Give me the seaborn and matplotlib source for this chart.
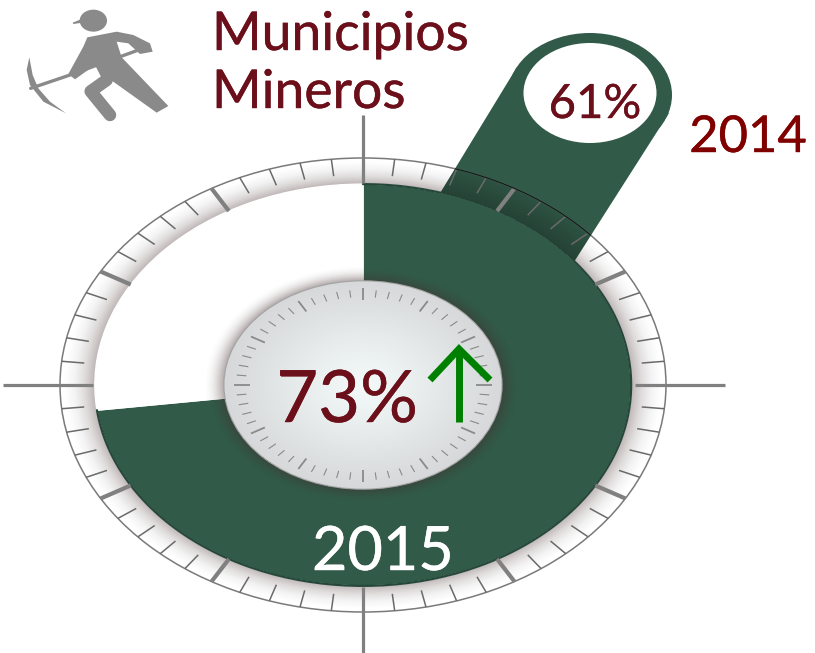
import numpy as np
import matplotlib
matplotlib.use("Agg")
import matplotlib.pyplot as plt
import matplotlib.patheffects as pe
from matplotlib.patches import Ellipse, Polygon
from matplotlib.transforms import Affine2D
import seaborn as sns

# ---- data ----
title_lines = ["Municipios", "Mineros"]
years = ["2014", "2015"]
shares = [61, 73]
dial_ticks = 60

# ---- style ----
GREEN = "#315B48"
MAROON = "#6B0F1A"
RED2014 = "#800000"
GRAY = "#808080"
sns.set_theme(style="white")
plt.rcParams["font.family"] = ["Lato", "DejaVu Sans"]

W, H = 815, 653
CX, CY, RX, RY = 363, 385, 303, 227
fig = plt.figure(figsize=(W / 100, H / 100), dpi=100, facecolor="white")
ax = fig.add_axes([0, 0, 1, 1])
px = Affine2D().scale(1, -1).translate(0, H)     # reference pixel positions -> display
xl = (-CX / RX, (W - CX) / RX)
yl = ((CY - H) / RY, CY / RY)

xx, yy = np.meshgrid(np.linspace(*xl, W), np.linspace(yl[1], yl[0], H))
rr = np.hypot(xx, yy)
ext = (xl[0], xl[1], yl[0], yl[1])


def layer(rgb, alpha, z, clip=None):
    img = np.dstack([np.full_like(rr, c) for c in rgb] + [alpha])
    im = ax.imshow(img, extent=ext, aspect="auto", zorder=z, interpolation="bilinear")
    if clip is not None:
        im.set_clip_path(clip)
    return im


# rim shading
rim_cmap = sns.blend_palette(["#BDB4B4", "#DEDADA", "#F3F3F3", "#FFFFFF"], as_cmap=True)
t = np.clip((rr - 0.885) / (0.985 - 0.885), 0, 1)
rim = rim_cmap(t)
rim[..., 3] = ((rr >= 0.87) & (rr <= 1.0)).astype(float)
ax.imshow(rim, extent=ext, aspect="auto", zorder=1)
ax.add_patch(Ellipse((0, 0), 2, 2, fc="none", ec="#7A7A7A", lw=1.1, zorder=6))

# 2015 sector
wedges, _ = ax.pie([shares[1], 100 - shares[1]], colors=[GREEN, "white"], startangle=90,
                   counterclock=False, radius=0.885, center=(0, 0))
for w in wedges:
    w.set_zorder(2)
ang = np.radians(np.linspace(0, 3.6 * shares[1], 200))
ax.plot(0.885 * np.sin(ang), 0.885 * np.cos(ang), color="#26483A", lw=1.6, zorder=3)

# 2014 callout
body = Polygon([(517, 67), (669, 113), (565, 276), (430, 210), (442, 190)], closed=True,
               fc=GREEN, ec="none", transform=px, zorder=4)
ax.add_patch(body)
ax.add_patch(Ellipse((590, 95), 164, 124, fc=GREEN, ec="none", transform=px, zorder=4))
ax.add_patch(Ellipse((590, 93), 133, 100, fc="white", ec="none", transform=px, zorder=5))
dark = np.where((rr > 0.885) & (rr <= 1.0), 0.32 - 0.22 * (rr - 0.885) / 0.115, 0.0)
layer((0.05, 0.05, 0.05), dark, 5, clip=body)
edge = Ellipse((0, 0), 2, 2, fc="none", ec="#102018", lw=1.0, zorder=7)
ax.add_patch(edge)
edge.set_clip_path(body)

# shadow around the centre dial
sh = np.clip(1 - (rr - 0.459) / 0.07, 0, 1) ** 2 * 0.42
sh[rr < 0.45] = 0
layer((0.26, 0.17, 0.18), sh, 8)

# centre dial
dial_cmap = sns.blend_palette(["#F4FAFA", "#E6EAEA", "#D6D8D9"], as_cmap=True)
face = dial_cmap(np.clip(rr / 0.459, 0, 1))
face[..., 3] = (rr <= 0.459).astype(float)
ax.imshow(face, extent=ext, aspect="auto", zorder=9)
ax.add_patch(Ellipse((0, 0), 0.918, 0.918, fc="none", ec="#A5A5A5", lw=0.8, zorder=10))

# graduations
for i in range(dial_ticks):
    a = 2 * np.pi * i / dial_ticks
    s, c = np.sin(a), np.cos(a)
    major = i % 5 == 0
    if i % 15:
        r0 = 0.885 if major else 0.925
        ax.plot([r0 * s, s], [r0 * c, c], color=GRAY if major else "#6A6A6A",
                lw=3.0 if major else 1.1, zorder=6, solid_capstyle="butt")
    r0, r1 = (0.374, 0.427) if major else (0.387, 0.419)
    ax.plot([r0 * s, r1 * s], [r0 * c, r1 * c], color="#8A8A8A",
            lw=1.3 if major else 0.8, zorder=10, solid_capstyle="butt")

# cross hair
for xs, ys in [((3, 93), (385, 385)), ((635, 725), (385, 385)),
               ((363, 363), (115, 183)), ((363, 363), (587, 653))]:
    ax.plot(xs, ys, color=GRAY, lw=2.3, transform=px, zorder=7, solid_capstyle="butt")

# up arrow
for xs, ys in [((459, 459), (422, 349)), ((430, 459, 490), (380, 349, 380))]:
    ax.plot(xs, ys, color="#008000", lw=5, transform=px, zorder=11,
            solid_capstyle="butt", solid_joinstyle="miter")

# miner pictogram (positions in 3x zoom units)
ICON = "#8A8A8A"
mn = Affine2D().scale(1 / 3) + px
ax.add_patch(Ellipse((280, 62), 82, 66, fc=ICON, ec="none", transform=mn, zorder=3))
ax.add_patch(Polygon([(218, 68), (262, 50), (262, 66), (220, 72)], fc=ICON, ec="none", transform=mn))
ax.add_patch(Polygon([(262, 112), (350, 95), (400, 105), (450, 130), (458, 155), (420, 162),
                      (385, 130), (350, 125), (365, 172), (505, 318), (470, 338),
                      (330, 238), (312, 248), (285, 195), (225, 238), (205, 222), (250, 140)],
                     fc=ICON, ec="none", transform=mn))
ax.plot([320, 272, 330], [240, 274, 345], color=ICON, lw=9, transform=mn, solid_capstyle="round",
        solid_joinstyle="round")
ax.plot([92, 210, 410], [265, 225, 152], color=ICON, lw=2.4, transform=mn, solid_capstyle="round")
ax.add_patch(Polygon([(88, 172), (80, 210), (90, 255), (130, 305), (198, 340), (150, 305),
                      (115, 265), (98, 225)], fc=ICON, ec="none", transform=mn))


def label(x, y, s, color, size, ha="left"):
    ax.text(x, y, s, color=color, fontsize=size, ha=ha, va="baseline", transform=px, zorder=12,
            path_effects=[pe.withStroke(linewidth=0.3, foreground=color)])


# texts
label(212, 50, title_lines[0], MAROON, 38.5)
label(212, 108, title_lines[1], MAROON, 38.5)
label(595, 118, f"{shares[0]}%", MAROON, 34, ha="center")
label(748, 152, years[0], RED2014, 36.5, ha="center")
label(347, 422, f"{shares[1]}%", MAROON, 52, ha="center")
label(383, 570, years[1], "white", 44, ha="center")

ax.set_xlim(*xl)
ax.set_ylim(*yl)
ax.set_aspect("auto")
ax.axis("off")
fig.savefig("out.png", dpi=100, facecolor="white")
